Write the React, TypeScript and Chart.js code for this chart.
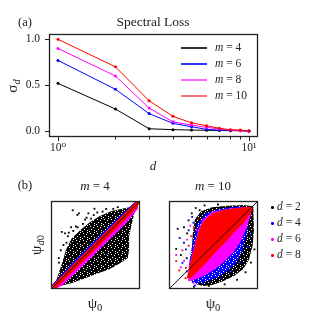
import React, { useEffect, useRef } from "react";
import { Chart, registerables } from "chart.js";
Chart.register(...registerables);

const FONT = "'Liberation Serif', 'DejaVu Serif', serif";
const INK = "#222";

// ---------- panel (a) data ----------
const dValues = [1, 2, 3, 4, 5, 6, 7, 8, 9, 10];
const sigmaM4 = [0.52, 0.24, 0.025, 0.015, 0.011, 0.008, 0.006, 0.004, 0.003, 0.0];
const sigmaM6 = [0.77, 0.455, 0.19, 0.084, 0.047, 0.018, 0.01, 0.008, 0.005, 0.0];
const sigmaM8 = [0.9, 0.6, 0.25, 0.1, 0.065, 0.04, 0.022, 0.01, 0.007, 0.0];
const sigmaM10 = [1.0, 0.7, 0.33, 0.16, 0.09, 0.058, 0.03, 0.014, 0.011, 0.0];
const seriesLabels = ["4", "6", "8", "10"];
const seriesColors = ["#000000", "#0000ff", "#ff00ff", "#ff0000"];
const legendLineColors = ["#333333", "#3333ff", "#ff66ff", "#ff7070"];
const yTickValues = [0, 0.5, 1.0];
const xMajorTicks = [1, 10];
const xTickLabels = ["10\u2070", "10\u00b9"];

// ---------- panel (b) data (psi_0 vs psi_d0, axis 0..100) ----------
const diagonal = [[0, 0], [100, 100]];
const m4CloudD2 = [[6, 10], [12, 28], [17, 45], [23, 57], [33, 67], [44, 76], [55, 83], [68, 88.5], [84, 92], [94, 94], [95.8, 93], [94.1, 87.7], [90.6, 73.7], [87.8, 59.6], [87.8, 45.6], [86.4, 35.1], [78.4, 29.8], [66.2, 22.8], [52.3, 17.5], [38.3, 12.3], [24.4, 7], [10.5, 3.5], [3, 1]];
const m4CloudD4 = [[1, 4], [25, 30.5], [50, 55.5], [75, 80.5], [95, 99], [97, 95], [60, 56], [30, 25], [5, 1]];
const m4CloudD6 = [[1, 2], [30, 32], [60, 62], [97, 99], [97, 91], [85, 76], [60, 51], [35, 26], [12, 4], [3, 0]];
const m4CloudD8 = [[1, 3], [30, 33], [60, 63], [97, 100], [99, 99], [96, 92], [60, 55.5], [30, 25.5], [4, 0]];
const m4PointsD2 = [[24.4, 89.5], [29.6, 84.2], [31.4, 86], [48.8, 91.2], [12.2, 64.9], [15.7, 63.2], [22.6, 70.2], [38.3, 78.9], [17.4, 52.6], [8.7, 35.1], [42, 86], [11, 44], [14, 50], [19, 60], [25, 66], [28, 71], [36, 74], [40, 81], [48, 84], [58, 88], [62, 91], [75, 93], [9, 30], [20, 64], [30, 70], [45, 80], [52, 87], [70, 91]];

const m10CloudD2 = [[30.9, 5.3], [27.4, 21.1], [25.6, 42.1], [26.7, 63.2], [29.1, 78.9], [36.1, 88.4], [48.4, 93], [66, 94.7], [83.5, 95.4], [94.7, 94], [95.4, 87.7], [95.4, 66.7], [94, 49.1], [89.8, 33.3], [83.5, 22.8], [73, 14.7], [60.7, 8.8], [48.4, 4.6], [37.9, 3.5]];
const m10CloudD4 = [[25.6, 7], [22.1, 24.6], [24.6, 42.1], [28.1, 59.6], [32.6, 75.4], [41.4, 86], [57.2, 91.2], [76.5, 93.7], [93, 93.2], [90, 80], [87, 60], [82, 42], [75, 29], [64, 19], [52, 12], [40, 8], [32, 6.3]];
const m10CloudD6 = [[22.1, 8.8], [23.2, 26.3], [26.7, 40.4], [30.2, 54.4], [33.7, 67.4], [38.6, 78.9], [48.4, 87], [66, 90.5], [83.5, 92.3], [92.5, 91.9], [91, 83], [86, 68], [80, 54], [72, 42], [62, 31.5], [51.5, 23], [41, 16.5], [30.9, 11.5]];
const m10CloudD8 = [[20.4, 12.3], [23.9, 26.3], [27.4, 40.4], [30.9, 54.4], [34.4, 66.7], [39.6, 77.2], [48.4, 84.9], [62.5, 89.5], [80, 91.9], [91.2, 93], [93.3, 89.5], [83.5, 75.4], [73, 64.9], [62.5, 52.6], [51.9, 42.1], [41.4, 29.8], [30.9, 19.3], [23.9, 12.3]];
const m10PointsD2 = [[9.8, 68.4], [16.8, 70.2], [8.1, 45.6], [13.3, 38.6], [25.6, 86], [34.4, 89.5], [20.4, 63.2], [44.9, 3.5], [62.5, 5.3], [76.5, 10.5], [22, 78], [30, 92], [40, 95], [55, 96], [92, 30], [96, 45], [86, 19], [20, 35], [24, 14], [28, 2.5]];
const m10PointsD4 = [[16.8, 52.6], [22.1, 66.7], [27.4, 75.4], [15.1, 29.8], [37.9, 7], [30.9, 71.9], [19, 45], [26, 82], [35, 85], [20, 20], [12, 58], [29, 4], [91, 62], [88, 48], [80, 30], [70, 20], [58, 12]];
const m10PointsD6 = [[8.1, 38.6], [13.3, 24.6], [20.4, 56.1], [27.4, 7], [30.9, 66.7], [17, 32], [24, 72], [26, 16]];
const m10PointsD8 = [[8.1, 31.6], [11.6, 21.1], [18.6, 12.3], [15.1, 43.9], [22.1, 49.1], [25, 60], [19, 24], [28, 70], [33, 80]];
const dLabels = ["2", "4", "6", "8"];
const dColors = ["#000000", "#0000ff", "#ff00ff", "#ff0000"];

// texture of the dense point clouds (x = dot, . = gap)
const speckleMask = ["xxxxx.x", "x.xxxxx", "xxxx.xx", "xxxxxxx", "xx.xxxx", "xxxxx.x", ".xxxxxx"];

const toXY = (arr: number[][]) => arr.map(([x, y]) => ({ x, y }));

function makeSpeckle(ctx: CanvasRenderingContext2D, color: string) {
  const c = document.createElement("canvas");
  c.width = speckleMask[0].length;
  c.height = speckleMask.length;
  const g = c.getContext("2d")!;
  g.fillStyle = color;
  speckleMask.forEach((row, y) => {
    for (let x = 0; x < row.length; x++) if (row[x] === "x") g.fillRect(x, y, 1, 1);
  });
  return ctx.createPattern(c, "repeat");
}

const framePlugin = {
  id: "frame",
  afterDraw(chart: any) {
    const { ctx, chartArea } = chart;
    const { left, right, top, bottom } = chartArea;
    ctx.save();
    ctx.strokeStyle = INK;
    ctx.lineWidth = 1.3;
    ctx.strokeRect(left + 0.5, top + 0.5, right - left - 1, bottom - top - 1);
    const sx = chart.scales.x;
    const sy = chart.scales.y;
    if (chart.options.plugins.frame && chart.options.plugins.frame.ticks) {
      ctx.lineWidth = 1;
      ctx.beginPath();
      for (const v of yTickValues) {
        const py = Math.round(sy.getPixelForValue(v)) + 0.5;
        ctx.moveTo(left - 4, py);
        ctx.lineTo(left, py);
      }
      for (const v of dValues) {
        const px = Math.round(sx.getPixelForValue(v)) + 0.5;
        const len = xMajorTicks.includes(v) ? 4 : 2.5;
        ctx.moveTo(px, bottom);
        ctx.lineTo(px, bottom + len);
      }
      ctx.stroke();
    }
    ctx.restore();
  },
};

function LossChart() {
  const ref = useRef<HTMLCanvasElement>(null);
  useEffect(() => {
    const all = [sigmaM4, sigmaM6, sigmaM8, sigmaM10];
    const chart = new Chart(ref.current!, {
      type: "scatter",
      data: {
        datasets: all.map((vals, i) => ({
          label: "m = " + seriesLabels[i],
          data: dValues.map((d, j) => ({ x: d, y: vals[j] })),
          showLine: true,
          borderColor: seriesColors[i],
          backgroundColor: seriesColors[i],
          borderWidth: 1,
          pointRadius: 1.5,
          pointBorderWidth: 0,
          order: 4 - i,
        })),
      },
      options: {
        responsive: false,
        animation: false,
        devicePixelRatio: 1,
        layout: { padding: { left: 0, top: 34, right: 59, bottom: 0 } },
        plugins: { legend: { display: false }, tooltip: { enabled: false }, frame: { ticks: true } } as any,
        scales: {
          x: {
            type: "logarithmic",
            min: 0.897,
            max: 11.15,
            afterBuildTicks: (s: any) => {
              s.ticks = dValues.map((v) => ({ value: v }));
            },
            afterFit: (s: any) => {
              s.height = 38;
            },
            grid: { display: false, drawTicks: false },
            border: { display: false },
            ticks: {
              autoSkip: false,
              maxRotation: 0,
              padding: 4,
              color: INK,
              font: { family: FONT, size: 11.5 },
              callback: (v: any) => {
                const k = xMajorTicks.indexOf(Number(v));
                return k >= 0 ? xTickLabels[k] : "";
              },
            },
          },
          y: {
            type: "linear",
            min: -0.065,
            max: 1.058,
            afterBuildTicks: (s: any) => {
              s.ticks = yTickValues.map((v) => ({ value: v }));
            },
            afterFit: (s: any) => {
              s.width = 49;
            },
            grid: { display: false, drawTicks: false },
            border: { display: false },
            ticks: {
              padding: 9,
              color: INK,
              font: { family: FONT, size: 11.5 },
              callback: (v: any) => Number(v).toFixed(1),
            },
          },
        },
      },
      plugins: [framePlugin],
    });
    return () => chart.destroy();
  }, []);
  return <canvas ref={ref} width={317} height={175} style={{ position: "absolute", left: 0, top: 0 }} />;
}

function ScatterPanel({ clouds, points, speckled, left }: { clouds: number[][][]; points: number[][][]; speckled: boolean[]; left: number }) {
  const ref = useRef<HTMLCanvasElement>(null);
  useEffect(() => {
    const ctx = ref.current!.getContext("2d")!;
    const datasets: any[] = [];
    clouds.forEach((poly, i) => {
      const fillStyle = speckled[i] ? makeSpeckle(ctx, dColors[i]) : dColors[i];
      datasets.push({
        type: "line",
        data: toXY(poly),
        borderColor: fillStyle,
        backgroundColor: fillStyle,
        borderWidth: speckled[i] ? 0 : 1,
        pointRadius: 0,
        fill: "shape",
        tension: 0,
        order: 20 - i * 4,
      });
    });
    points.forEach((pts, i) => {
      if (!pts.length) return;
      datasets.push({
        type: "scatter",
        data: toXY(pts),
        backgroundColor: dColors[i],
        borderWidth: 0,
        pointStyle: "rect",
        pointRadius: 1.3,
        order: 19 - i * 4,
      });
    });
    datasets.push({
      type: "line",
      data: toXY(diagonal),
      borderColor: "#111",
      borderWidth: 1,
      pointRadius: 0,
      fill: false,
      order: 0,
    });
    const chart = new Chart(ref.current!, {
      type: "scatter",
      data: { datasets },
      options: {
        responsive: false,
        animation: false,
        devicePixelRatio: 1,
        layout: { padding: 0 },
        plugins: { legend: { display: false }, tooltip: { enabled: false }, frame: { ticks: false } } as any,
        scales: {
          x: { type: "linear", min: 0, max: 100, display: false },
          y: { type: "linear", min: 0, max: 100, display: false },
        },
      },
      plugins: [framePlugin],
    });
    return () => chart.destroy();
  }, []);
  return <canvas ref={ref} width={97} height={96} style={{ position: "absolute", left, top: 197 }} />;
}

const textBase: React.CSSProperties = {
  position: "absolute",
  fontFamily: FONT,
  color: INK,
  lineHeight: 1,
  whiteSpace: "nowrap",
};

function Center({ x, y, size, rotate = 0, children }: { x: number; y: number; size: number; rotate?: number; children: React.ReactNode }) {
  return (
    <div style={{ ...textBase, left: x, top: y, fontSize: size, transform: `translate(-50%, -50%) rotate(${rotate}deg)` }}>
      {children}
    </div>
  );
}

const Sub = ({ children }: { children: React.ReactNode }) => (
  <span style={{ fontSize: "70%", position: "relative", top: "0.3em" }}>{children}</span>
);

export default function App() {
  return (
    <div style={{ position: "fixed", left: 0, top: 0, width: 317, height: 324, background: "#fff", overflow: "hidden" }}>
      <LossChart />
      <ScatterPanel left={47} speckled={[true, false, false, false]} clouds={[m4CloudD2, m4CloudD4, m4CloudD6, m4CloudD8]} points={[m4PointsD2, [], [], []]} />
      <ScatterPanel left={165} speckled={[true, true, false, false]} clouds={[m10CloudD2, m10CloudD4, m10CloudD6, m10CloudD8]} points={[m10PointsD2, m10PointsD4, m10PointsD6, m10PointsD8]} />

      <Center x={25} y={22} size={12.5}>(a)</Center>
      <Center x={153} y={22} size={13.5}>Spectral Loss</Center>
      <Center x={12} y={86} size={15} rotate={-90}>
        σ<Sub><i>d</i></Sub>
      </Center>
      <Center x={153} y={165} size={13}><i>d</i></Center>

      {seriesLabels.map((m, i) => (
        <React.Fragment key={m}>
          <div style={{ position: "absolute", left: 181, top: [48, 64, 80, 96][i] - 1, width: 26, height: i === 3 ? 2 : 1.5, background: legendLineColors[i] }} />
          <div style={{ ...textBase, left: 215, top: [48, 64, 80, 96][i], fontSize: 11.5, transform: "translateY(-50%)" }}>
            <i>m</i> = {m}
          </div>
        </React.Fragment>
      ))}

      <Center x={25} y={185} size={12.5}>(b)</Center>
      <Center x={95} y={185} size={13}><i>m</i> = 4</Center>
      <Center x={213} y={185} size={13}><i>m</i> = 10</Center>
      <Center x={36} y={245} size={15} rotate={-90}>
        ψ<Sub><i>d</i>0</Sub>
      </Center>
      <Center x={95} y={303} size={15}>ψ<Sub>0</Sub></Center>
      <Center x={213} y={303} size={15}>ψ<Sub>0</Sub></Center>

      {dLabels.map((d, i) => (
        <React.Fragment key={d}>
          <div style={{ position: "absolute", left: 271, top: [207, 223, 239, 255][i] - 1, width: 2.5, height: 2.5, borderRadius: 1.25, background: dColors[i] }} />
          <div style={{ ...textBase, left: 277, top: [207, 223, 239, 255][i], fontSize: 11.5, transform: "translateY(-50%)" }}>
            <i>d</i> = {d}
          </div>
        </React.Fragment>
      ))}
    </div>
  );
}
